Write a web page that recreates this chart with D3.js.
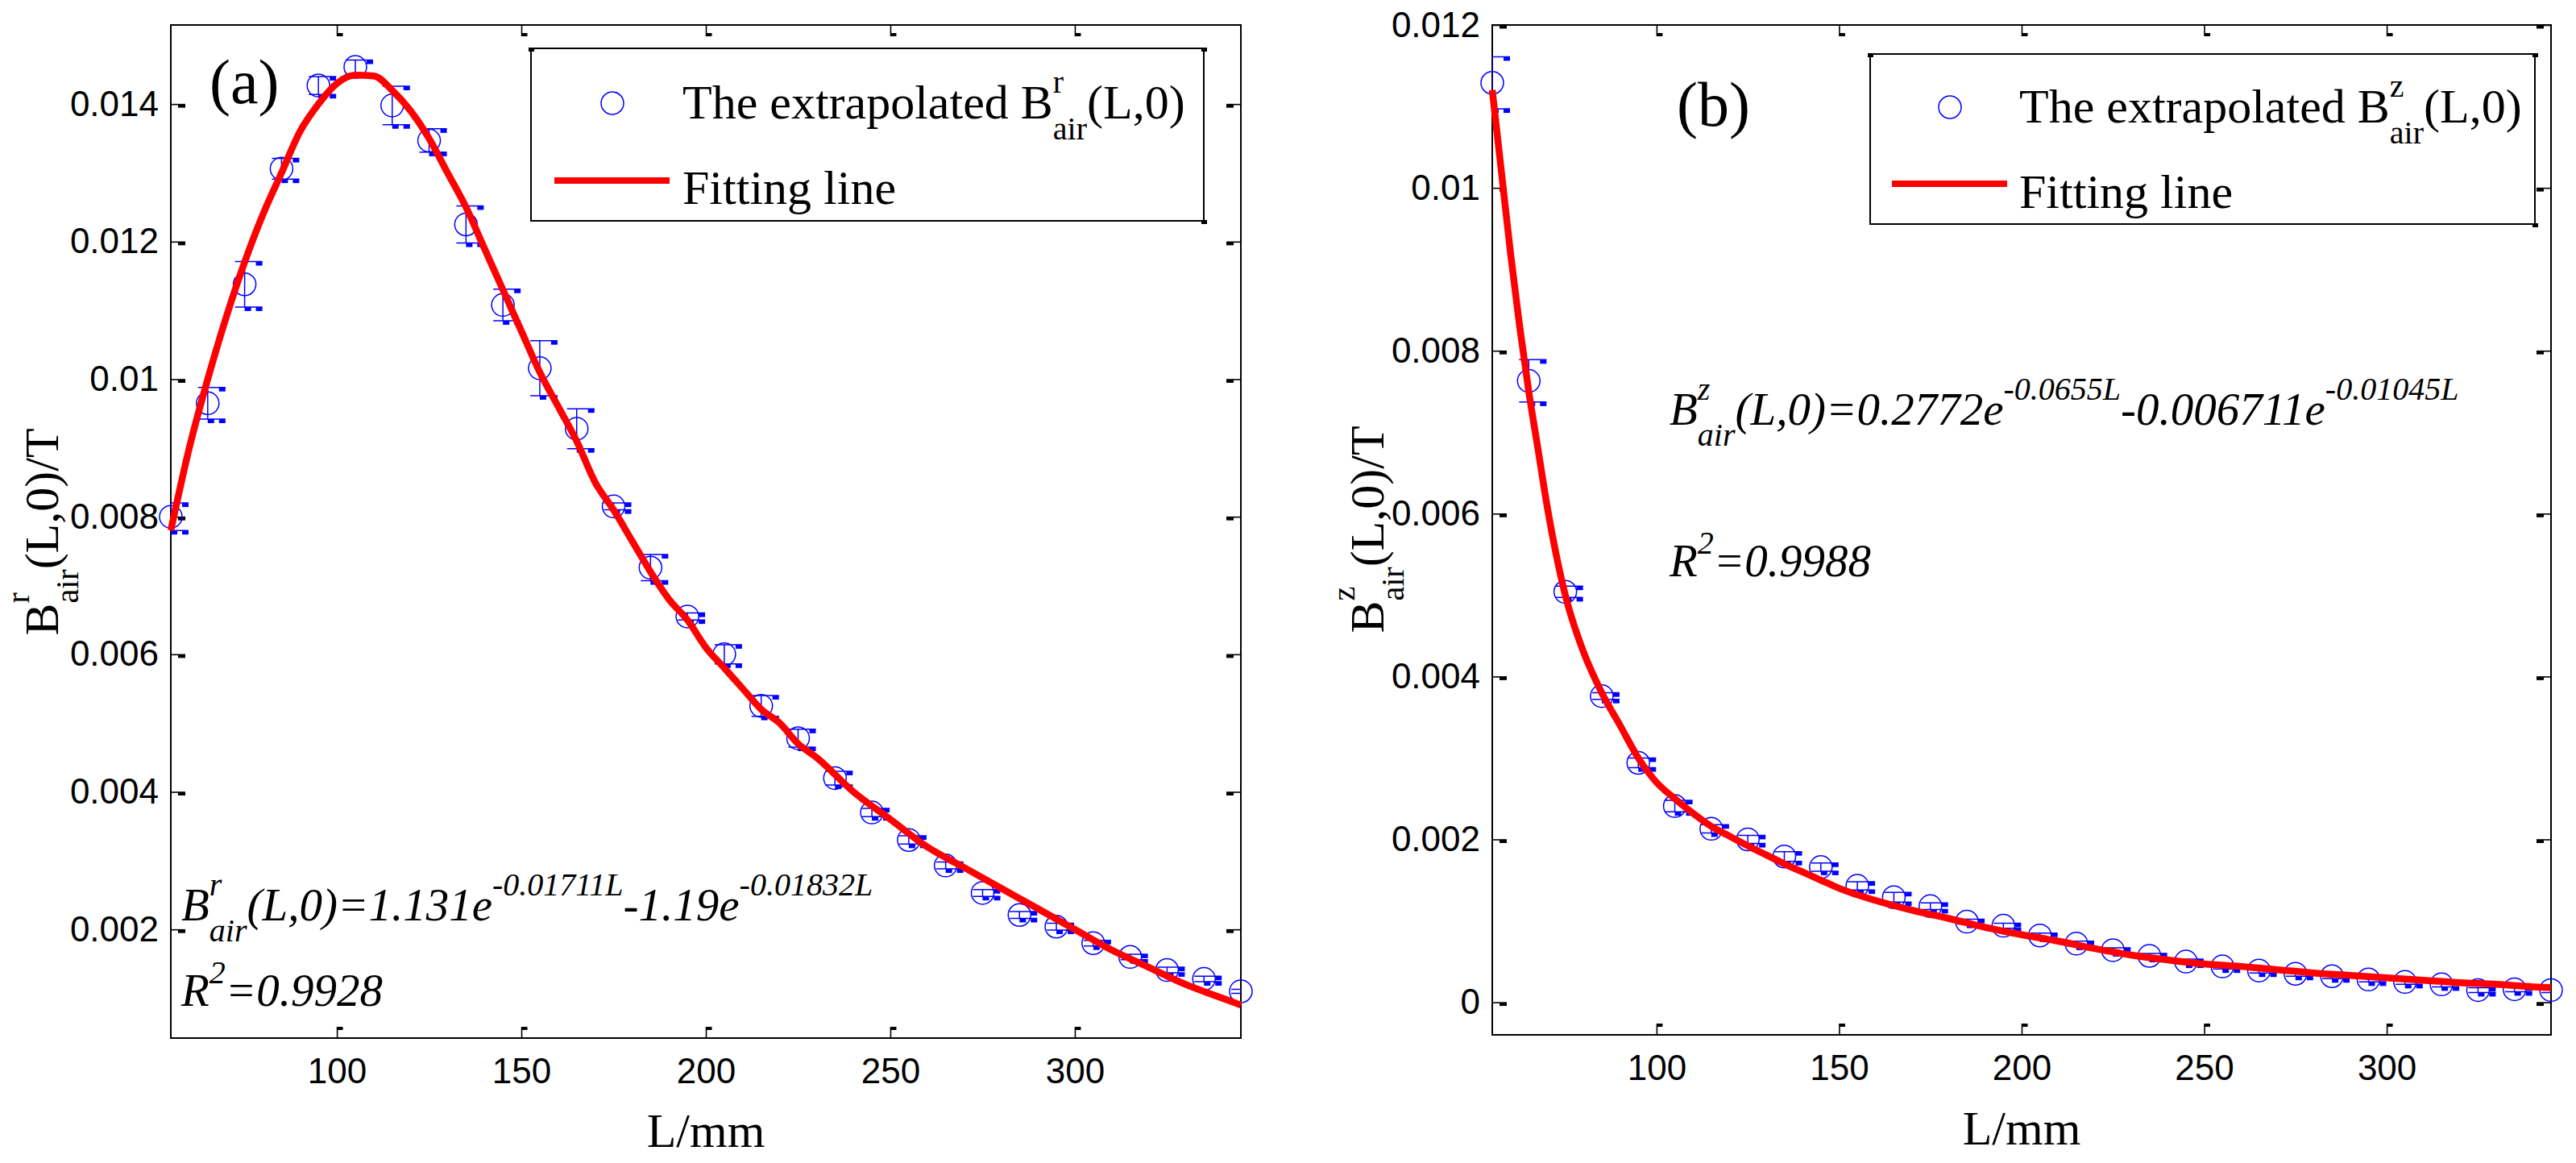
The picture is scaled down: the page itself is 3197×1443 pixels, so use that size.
<!DOCTYPE html>
<html>
<head>
<meta charset="utf-8">
<script src="https://cdn.jsdelivr.net/npm/d3@7"></script>
<style>
  body { margin: 0; background: #ffffff; }
</style>
</head>
<body>
<div class="chart"></div>
<script>
// ************************ DATA ************************

// distance of the measuring points, mm
const lengths = [55, 65, 75, 85, 95, 105, 115, 125, 135, 145, 155, 165, 175, 185, 195,
                 205, 215, 225, 235, 245, 255, 265, 275, 285, 295, 305, 315, 325, 335, 345]

// (a) extrapolated radial component, T, and its error bar half height
const brAir = [0.0080, 0.00965, 0.01138, 0.01306, 0.01427, 0.01454, 0.01398, 0.01347, 0.01225, 0.01108,
               0.01016, 0.00928, 0.00815, 0.00726, 0.00655, 0.00600, 0.00525, 0.00478, 0.00420, 0.00370,
               0.00330, 0.00293, 0.00253, 0.00221, 0.00204, 0.00180, 0.00160, 0.00141, 0.00128, 0.00110]
const brErr = [0.00020, 0.00023, 0.00033, 0.00015, 0.00013, 0.00010, 0.00028, 0.00017, 0.00027, 0.00023,
               0.00040, 0.00029, 0.00005, 0.00019, 0.00005, 0.00014, 0.00015, 0.00013, 0.00010, 0.00006,
               0.00006, 0.00005, 0.00005, 0.00005, 0.00005, 0.00004, 0.00004, 0.00004, 0.00004, 0.00003]

// (b) extrapolated axial component, T, and its error bar half height
const bzAir = [0.01129, 0.00763, 0.00504, 0.00376, 0.00294, 0.00241, 0.00213, 0.00200, 0.00179, 0.00166,
               0.00143, 0.00129, 0.00118, 0.00099, 0.00094, 0.00082, 0.00072, 0.00064, 0.00057, 0.00050,
               0.00044, 0.00039, 0.00035, 0.00032, 0.00028, 0.00025, 0.00022, 0.00015, 0.00016, 0.00015]
const bzErr = [0.00032, 0.00026, 0.00007, 0.00004, 0.00006, 0.00007, 0.00005, 0.00005, 0.00006, 0.00005,
               0.00005, 0.00006, 0.00004, 0.00003, 0.00003, 0.00003, 0.00003, 0.00003, 0.00003, 0.00003,
               0.00003, 0.00003, 0.00003, 0.00003, 0.00003, 0.00003, 0.00003, 0.00003, 0.00003, 0.00003]

// fitting lines, sampled off the red curves
const fitLenA = [55, 60, 65, 70, 75, 80, 85, 90, 95, 100, 105, 110, 115, 120, 125, 130, 135, 140, 145, 150,
                 155, 160, 165, 170, 175, 180, 185, 190, 195, 200, 205, 210, 215, 220, 225, 230, 240, 250,
                 260, 270, 280, 290, 300, 310, 320, 330, 340, 345]
const fitA = [0.0078, 0.0090, 0.0100, 0.0109, 0.0117, 0.0124, 0.0130, 0.0136, 0.0140, 0.0143, 0.01442, 0.01441,
              0.0142, 0.0139, 0.0135, 0.0130, 0.0125, 0.0119, 0.0113, 0.0107, 0.0101, 0.0096, 0.0091, 0.0085,
              0.0081, 0.00765, 0.0072, 0.0068, 0.0065, 0.0061, 0.0058, 0.0055, 0.0052, 0.0050, 0.0047, 0.0045,
              0.0040, 0.0036, 0.0032, 0.0029, 0.0026, 0.0023, 0.0020, 0.0017, 0.00145, 0.0012, 0.0010, 0.0009]

const fitLenB = [55, 57.5, 60, 62.5, 65, 67.5, 70, 72.5, 75, 80, 85, 90, 95, 100, 105, 110, 115, 120, 125, 130,
                 135, 140, 145, 150, 160, 170, 180, 190, 200, 210, 220, 230, 240, 250, 260, 270, 280, 290,
                 300, 310, 320, 330, 340, 345]
const fitB = [0.0112, 0.0102, 0.0092, 0.0083, 0.0075, 0.0068, 0.0061, 0.0055, 0.0050, 0.0043, 0.0038, 0.0034,
              0.0030, 0.0027, 0.0025, 0.00232, 0.00216, 0.00204, 0.00192, 0.00181, 0.0017, 0.0016, 0.0015,
              0.0014, 0.00125, 0.00113, 0.00103, 0.00092, 0.00083, 0.00075, 0.00066, 0.00058, 0.00052,
              0.00047, 0.00044, 0.0004, 0.00036, 0.00033, 0.0003, 0.00027, 0.00024, 0.00022, 0.00019, 0.00018]

// ticks
const xTicks = [100, 150, 200, 250, 300]
const yTicksA = [0.002, 0.004, 0.006, 0.008, 0.010, 0.012, 0.014]
const yLabelsA = ["0.002", "0.004", "0.006", "0.008", "0.01", "0.012", "0.014"]
const yTicksB = [0, 0.002, 0.004, 0.006, 0.008, 0.010, 0.012]
const yLabelsB = ["0", "0.002", "0.004", "0.006", "0.008", "0.01", "0.012"]

// ************************ STYLE & LAYOUT ************************

const width = 3197
const height = 1443
const serif = "'Liberation Serif', 'Times New Roman', serif"
const sans = "'Liberation Sans', Arial, sans-serif"
const blue = "#0000ff"
const red = "#ff0000"

const panels = [
  {
    id: "a", tag: "(a)", comp: "r",
    vals: brAir, errs: brErr, fitLen: fitLenA, fit: fitA,
    yTicks: yTicksA, yLabels: yLabelsA, yDomain: [0.00042, 0.01515],
    x0: 212, x1: 1540, y0: 31, y1: 1288,
    legend: { x: 659, y: 60, w: 835, h: 214, mx: 760, my: 128, lx0: 688, lx1: 831, ly: 224, tx: 847, t1: 147, t2: 253 },
    tagPos: [260, 128],
    formula: [225, 1142], r2: [225, 1248],
    formulaParts: ["(L,0)=1.131e", "-0.01711L", "-1.19e", "-0.01832L"], r2Text: "=0.9928",
    yLab: [72, 660], xLab: [876, 1423]
  },
  {
    id: "b", tag: "(b)", comp: "z",
    vals: bzAir, errs: bzErr, fitLen: fitLenB, fit: fitB,
    yTicks: yTicksB, yLabels: yLabelsB, yDomain: [-0.0004, 0.012],
    x0: 1852, x1: 3166, y0: 31, y1: 1284,
    legend: { x: 2321, y: 67, w: 825, h: 211, mx: 2420, my: 133, lx0: 2348, lx1: 2491, ly: 228, tx: 2506, t1: 152, t2: 258 },
    tagPos: [2081, 156],
    formula: [2072, 527], r2: [2072, 715],
    formulaParts: ["(L,0)=0.2772e", "-0.0655L", "-0.006711e", "-0.01045L"], r2Text: "=0.9988",
    yLab: [1717, 657], xLab: [2509, 1420]
  }
]

// lays out a run of text pieces with super/subscripts, returns total width
// a piece with stack:true starts where the previous piece started
const rich = (g, x, y, parts, size, italic) => {
  let cx = x
  let lastStart = x
  parts.forEach((p) => {
    const sx = p.stack ? lastStart : cx
    const t = g.append("text")
      .attr("x", sx)
      .attr("y", y + (p.dy || 0))
      .attr("font-family", serif)
      .attr("font-size", p.size || size)
      .attr("font-style", italic ? "italic" : "normal")
      .attr("fill", "#000000")
      .text(p.t)
    const w = t.node().getComputedTextLength()
    cx = p.stack ? Math.max(cx, sx + w) : sx + w
    lastStart = sx
  })
  return cx - x
}

// ************************ DRAW ************************

const svg = d3.select(".chart")
  .append("svg")
  .attr("width", width)
  .attr("height", height)
  .style("display", "block")

svg.append("rect")
  .attr("width", width)
  .attr("height", height)
  .attr("fill", "#ffffff")

const drawPanel = (p) => {

  const xScale = d3.scaleLinear().domain([55, 345]).range([p.x0, p.x1])
  const yScale = d3.scaleLinear().domain(p.yDomain).range([p.y1, p.y0])
  const g = svg.append("g").attr("id", "panel-" + p.id)

  // clip for the error bars
  svg.append("clipPath")
    .attr("id", "clip-" + p.id)
    .append("rect")
    .attr("x", p.x0)
    .attr("y", p.y0)
    .attr("width", p.x1 - p.x0)
    .attr("height", p.y1 - p.y0)

  // axes, ticks pointing inward
  const styleAxis = (sel, sq) => {
    sel.select(".domain").remove()
    sel.selectAll(".tick line").attr("stroke", "#000000").attr("stroke-width", 1.6)
    sel.selectAll(".tick text")
      .attr("font-family", sans)
      .attr("font-size", 44)
      .attr("fill", "#000000")
    sel.selectAll(".tick").append("rect")
      .attr("x", sq[0]).attr("y", sq[1])
      .attr("width", sq[2]).attr("height", sq[3])
      .attr("fill", "#000000")
  }

  g.append("g")
    .attr("transform", "translate(0," + p.y1 + ")")
    .call(d3.axisBottom(xScale).tickValues(xTicks).tickSize(-14).tickPadding(25))
    .call(styleAxis, [0, -14, 7, 4])

  g.append("g")
    .attr("transform", "translate(0," + p.y0 + ")")
    .call(d3.axisTop(xScale).tickValues(xTicks).tickSize(-14).tickFormat(""))
    .call(styleAxis, [0, 10, 7, 4])

  g.append("g")
    .attr("transform", "translate(" + p.x0 + ",0)")
    .call(d3.axisLeft(yScale).tickValues(p.yTicks).tickFormat((d, i) => p.yLabels[i]).tickSize(-18).tickPadding(15))
    .call(styleAxis, [9, 0, 9, 4])

  g.append("g")
    .attr("transform", "translate(" + p.x1 + ",0)")
    .call(d3.axisRight(yScale).tickValues(p.yTicks).tickSize(-18).tickFormat(""))
    .call(styleAxis, [-18, 0, 9, 4])

  // box
  g.append("rect")
    .attr("x", p.x0)
    .attr("y", p.y0)
    .attr("width", p.x1 - p.x0)
    .attr("height", p.y1 - p.y0)
    .attr("fill", "none")
    .attr("stroke", "#000000")
    .attr("stroke-width", 2)

  const pts = lengths.map((l, i) => ({ l: l, v: p.vals[i], e: p.errs[i] }))

  // error bars
  const eb = g.append("g").attr("clip-path", "url(#clip-" + p.id + ")")
  pts.forEach((d) => {
    const cx = xScale(d.l)
    const yt = yScale(d.v + d.e)
    const yb = yScale(d.v - d.e)
    eb.append("line")
      .attr("x1", cx).attr("x2", cx).attr("y1", yt).attr("y2", yb)
      .attr("stroke", blue).attr("stroke-width", 1.5)
    ;[yt, yb].forEach((yy) => {
      eb.append("line")
        .attr("x1", cx - 12).attr("x2", cx + 22).attr("y1", yy).attr("y2", yy)
        .attr("stroke", blue).attr("stroke-width", 1.5)
      eb.append("rect")
        .attr("x", cx + 14).attr("y", yy).attr("width", 8).attr("height", 5)
        .attr("fill", blue)
    })
    eb.append("rect")
      .attr("x", cx).attr("y", yb).attr("width", 8).attr("height", 5)
      .attr("fill", blue)
  })

  // markers
  g.append("g")
    .selectAll("circle")
    .data(pts)
    .enter()
    .append("circle")
    .attr("cx", (d) => xScale(d.l))
    .attr("cy", (d) => yScale(d.v))
    .attr("r", 14)
    .attr("fill", "none")
    .attr("stroke", blue)
    .attr("stroke-width", 1.5)

  // fitting line
  const line = d3.line()
    .x((d) => xScale(d[0]))
    .y((d) => yScale(d[1]))
    .curve(d3.curveMonotoneX)

  g.append("path")
    .datum(p.fitLen.map((l, i) => [l, p.fit[i]]))
    .attr("d", line)
    .attr("fill", "none")
    .attr("stroke", red)
    .attr("stroke-width", 8.5)
    .attr("stroke-linejoin", "round")

  // legend
  const lg = p.legend
  g.append("rect")
    .attr("x", lg.x).attr("y", lg.y).attr("width", lg.w).attr("height", lg.h)
    .attr("fill", "#ffffff").attr("stroke", "#000000").attr("stroke-width", 2)
  ;[[lg.x, lg.y], [lg.x + lg.w, lg.y], [lg.x + lg.w, lg.y + lg.h]].forEach((c) => {
    g.append("rect")
      .attr("x", c[0] - 3).attr("y", c[1] - 1).attr("width", 7).attr("height", 5)
      .attr("fill", "#000000")
  })
  g.append("circle")
    .attr("cx", lg.mx).attr("cy", lg.my).attr("r", 14)
    .attr("fill", "none").attr("stroke", blue).attr("stroke-width", 1.5)
  g.append("line")
    .attr("x1", lg.lx0).attr("x2", lg.lx1).attr("y1", lg.ly).attr("y2", lg.ly)
    .attr("stroke", red).attr("stroke-width", 8)
  rich(g, lg.tx, lg.t1, [
    { t: "The extrapolated B" },
    { t: p.comp, size: 40, dy: -32 },
    { t: "air", size: 40, dy: 26, stack: true },
    { t: "(L,0)" }
  ], 60, false)
  rich(g, lg.tx, lg.t2, [{ t: "Fitting line" }], 60, false)

  // panel tag
  g.append("text")
    .attr("x", p.tagPos[0])
    .attr("y", p.tagPos[1])
    .attr("font-family", serif)
    .attr("font-size", 78)
    .attr("fill", "#000000")
    .text(p.tag)

  // fit formula and R^2
  rich(g, p.formula[0], p.formula[1], [
    { t: "B" },
    { t: p.comp, size: 40, dy: -31 },
    { t: "air", size: 40, dy: 26, stack: true },
    { t: p.formulaParts[0] },
    { t: p.formulaParts[1], size: 40, dy: -31 },
    { t: p.formulaParts[2] },
    { t: p.formulaParts[3], size: 40, dy: -31 }
  ], 57, true)
  rich(g, p.r2[0], p.r2[1], [
    { t: "R" },
    { t: "2", size: 40, dy: -28 },
    { t: p.r2Text }
  ], 57, true)

  // y label, rotated
  const yl = g.append("g")
  const yw = rich(yl, 0, 0, [
    { t: "B" },
    { t: p.comp, size: 40, dy: -36 },
    { t: "air", size: 40, dy: 25, stack: true },
    { t: "(L,0)/T" }
  ], 60, false)
  yl.attr("transform", "translate(" + p.yLab[0] + "," + (p.yLab[1] + yw / 2) + ") rotate(-90)")

  // x label
  g.append("text")
    .attr("x", p.xLab[0])
    .attr("y", p.xLab[1])
    .attr("text-anchor", "middle")
    .attr("font-family", serif)
    .attr("font-size", 60)
    .attr("fill", "#000000")
    .text("L/mm")
}

panels.forEach(drawPanel)
</script>
</body>
</html>
